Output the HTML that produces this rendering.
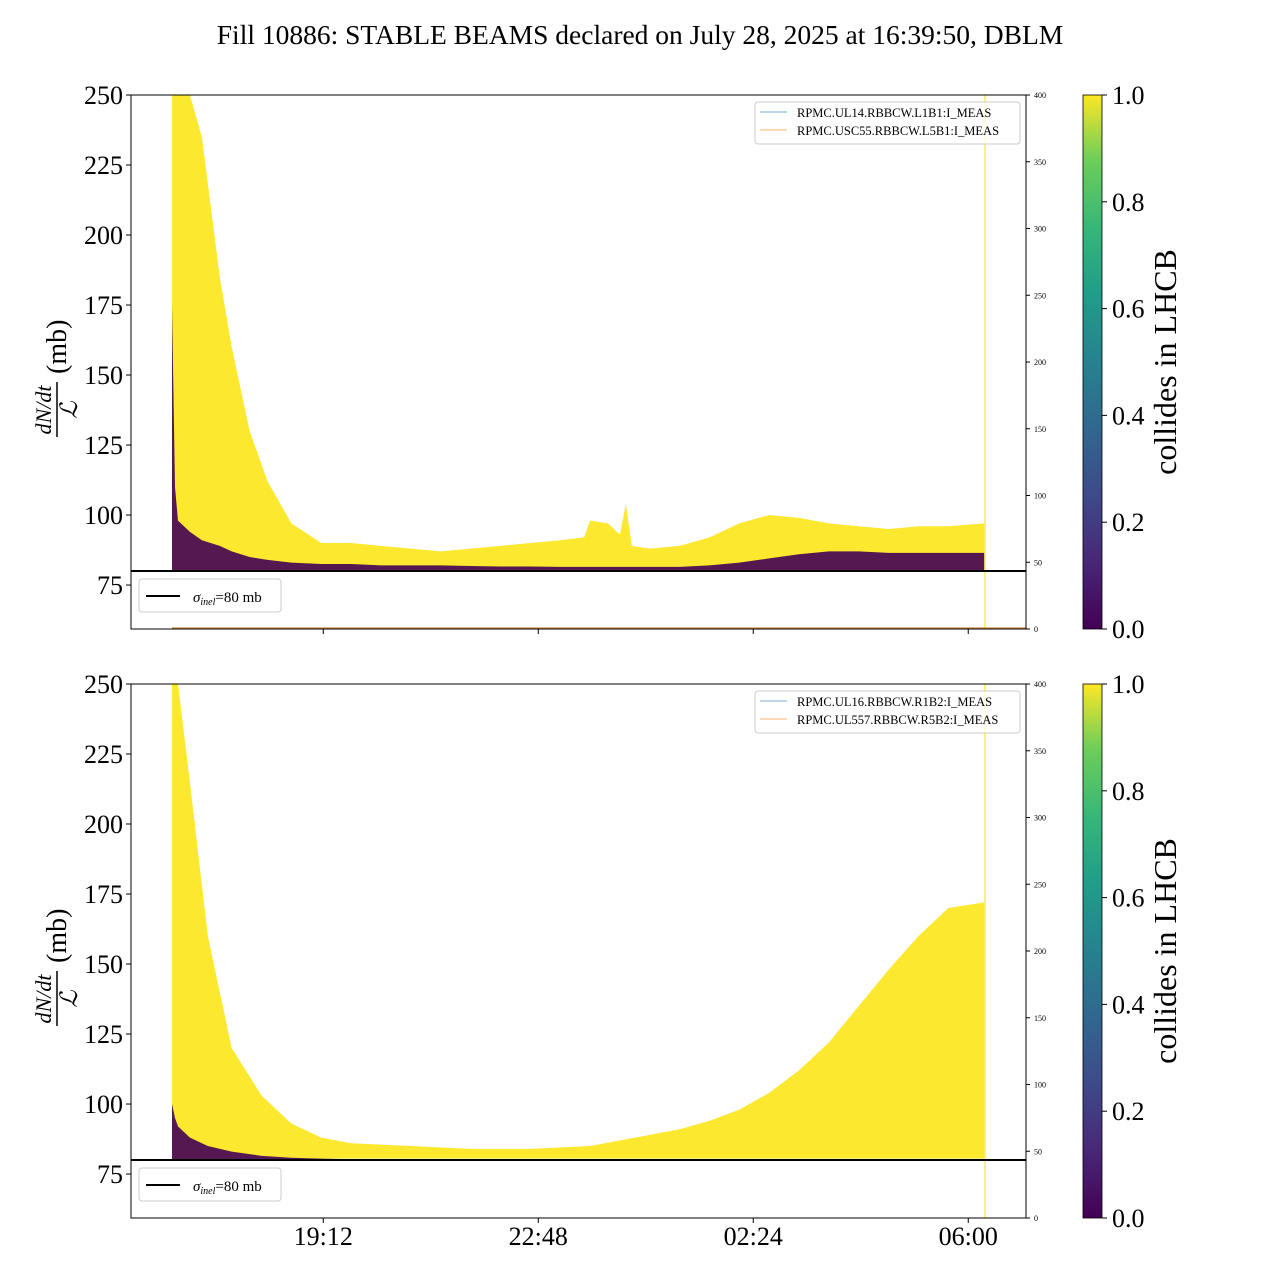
<!DOCTYPE html>
<html><head><meta charset="utf-8"><style>
html,body{margin:0;padding:0;background:#fff;}
svg text{font-family:"Liberation Serif",serif;}
</style></head><body>
<svg id="chart" width="1280" height="1280" viewBox="0 0 1280 1280" xmlns="http://www.w3.org/2000/svg">
<defs>
<linearGradient id="vir" x1="0" y1="1" x2="0" y2="0">
<stop offset="0" stop-color="#440154"/><stop offset="0.13" stop-color="#482878"/><stop offset="0.25" stop-color="#3e4a89"/><stop offset="0.38" stop-color="#31688e"/><stop offset="0.5" stop-color="#26828e"/><stop offset="0.63" stop-color="#1f9e89"/><stop offset="0.75" stop-color="#35b779"/><stop offset="0.88" stop-color="#6ece58"/><stop offset="1" stop-color="#fde725"/>
</linearGradient>
</defs>
<text x="640" y="44" text-anchor="middle" font-size="27.5">Fill 10886: STABLE BEAMS declared on July 28, 2025 at 16:39:50, DBLM</text>
<g id="panels"></g>
</svg>
<script>
// hours since 16:40
const timesTop = [0,0.05,0.1,0.3,0.5,0.8,1.0,1.3,1.6,2.0,2.5,3.0,3.5,4.0,4.5,5.0,5.5,6.0,6.5,6.9,7.0,7.3,7.5,7.6,7.7,8.0,8.5,9.0,9.5,10.0,10.5,11.0,11.5,12.0,12.5,13.0,13.6];
const yellowTop = [250,250,250,250,235,185,160,130,112,97,90,90,89,88,87,88,89,90,91,92,98,97,93,104,89,88,89,92,97,100,99,97,96,95,96,96,97];
const purpleTop = [175,110,98,94,91,89,87,85,84,83,82.5,82.5,82,82,82,81.8,81.6,81.6,81.5,81.5,81.5,81.5,81.5,81.5,81.5,81.5,81.5,82,83,84.5,86,87,87,86.5,86.5,86.5,86.5];
const timesBot = [0,0.05,0.1,0.3,0.6,1.0,1.5,2.0,2.5,3.0,4.0,5.0,6.0,7.0,7.5,8.0,8.5,9.0,9.5,10.0,10.5,11.0,11.5,12.0,12.5,13.0,13.6];
const yellowBot = [250,250,250,215,160,120,103,93,88,86,85,84,84,85,87,89,91,94,98,104,112,122,135,148,160,170,172];
const purpleBot = [100,95,92,88,85,83,81.5,80.8,80.5,80.3,80.2,80.2,80.2,80.2,80.2,80.2,80.2,80.2,80.2,80.2,80.2,80.2,80.2,80.2,80.2,80.2,80.2];
const yTicks = [75,100,125,150,175,200,225,250];
const rTicks = [0,50,100,150,200,250,300,350,400];
const xTickHours = [2.533,6.133,9.733,13.333];
const xTickLabels = ["19:12","22:48","02:24","06:00"];
const cbTicks = [0.0,0.2,0.4,0.6,0.8,1.0];
const legendTop = ["RPMC.UL14.RBBCW.L1B1:I_MEAS","RPMC.USC55.RBBCW.L5B1:I_MEAS"];
const legendBot = ["RPMC.UL16.RBBCW.R1B2:I_MEAS","RPMC.UL557.RBBCW.R5B2:I_MEAS"];

const NS="http://www.w3.org/2000/svg";
const X0=131,X1=1026,YMIN=59.3,YMAX=250;
function xs(h){return 172+h*59.72;}
function mk(tag,attrs,parent){const e=document.createElementNS(NS,tag);for(const k in attrs)e.setAttribute(k,attrs[k]);parent.appendChild(e);return e;}
const root=document.getElementById('panels');

function panel(top,times,yel,pur,leg,showX,name){
  const bot=top+534;
  const ys=v=>bot-(v-YMIN)/(YMAX-YMIN)*(bot-top);
  const g=mk('g',{},root);
  
  
  const clip='clip'+top;
  const cp=mk('clipPath',{id:clip},g);mk('rect',{x:X0,y:top,width:X1-X0,height:bot-top},cp);
  const pg=mk('g',{'clip-path':'url(#'+clip+')'},g);
  let d='M'+xs(times[0])+','+ys(80.5);
  times.forEach((t,i)=>{d+=' L'+xs(t)+','+ys(yel[i]);});
  d+=' L'+xs(times[times.length-1])+','+ys(80.5)+'Z';
  const ya=mk('path',{d:d,fill:'#fde725','fill-opacity':0.95},pg);
  
  
  let d2='M'+xs(times[0])+','+ys(80);
  times.forEach((t,i)=>{d2+=' L'+xs(t)+','+ys(pur[i]);});
  d2+=' L'+xs(times[times.length-1])+','+ys(80)+'Z';
  const pa=mk('path',{d:d2,fill:'#440154','fill-opacity':0.9},pg);
  
  
  const vl=mk('line',{x1:985,x2:985,y1:top,y2:bot,stroke:'#fde725','stroke-width':1.2},g);
  
  
  if(top<300){const ol=mk('line',{x1:172,x2:1026,y1:bot-1,y2:bot-1,stroke:'#d08a40','stroke-width':1.2},g);
    
    }
  const sl=mk('line',{x1:X0,x2:X1,y1:ys(80),y2:ys(80),stroke:'#000','stroke-width':2},g);
  
  
  const fr=mk('rect',{x:X0,y:top,width:X1-X0,height:bot-top,fill:'none',stroke:'#000','stroke-width':1},g);
  
  
  yTicks.forEach(v=>{const y=ys(v);mk('line',{x1:X0-5,x2:X0,y1:y,y2:y,stroke:'#000'},g);
    const t=mk('text',{x:X0-8,y:y+9,'text-anchor':'end','font-size':26},g);t.textContent=v;
    
    });
  rTicks.forEach(v=>{const y=bot-v/400*(bot-top);mk('line',{x1:X1,x2:X1+4,y1:y,y2:y,stroke:'#000'},g);
    const t=mk('text',{x:X1+8,y:y+3,'font-size':8},g);t.textContent=v;
    
    });
  xTickHours.forEach((h,i)=>{const x=xs(h);mk('line',{x1:x,x2:x,y1:bot,y2:bot+5,stroke:'#000'},g);
    if(showX){const t=mk('text',{x:x,y:bot+27,'text-anchor':'middle','font-size':26},g);t.textContent=xTickLabels[i];
      
      }});
  const yl=mk('g',{transform:'translate(57,'+(top+267)+') rotate(-90)'},g);
  
  
  const a=mk('text',{x:-48,y:-6,'text-anchor':'middle','font-size':22,'font-style':'italic'},yl);a.textContent='dN/dt';
  mk('line',{x1:-75,x2:-20,y1:0,y2:0,stroke:'#000','stroke-width':1.5},yl);
  const b=mk('text',{x:-48,y:20,'text-anchor':'middle','font-size':24,'font-style':'italic'},yl);b.textContent='ℒ';
  const c=mk('text',{x:-12,y:9,'font-size':28},yl);c.textContent='(mb)';
  const lg=mk('g',{},g);
  
  
  mk('rect',{x:139,y:bot-50,width:142,height:33,rx:3,fill:'#fff',stroke:'#ccc'},lg);
  mk('line',{x1:146,x2:180,y1:bot-33,y2:bot-33,stroke:'#000','stroke-width':2},lg);
  const st=mk('text',{x:193,y:bot-27,'font-size':15},lg);
  st.innerHTML='<tspan font-style="italic">σ</tspan><tspan font-style="italic" font-size="10" dy="3">inel</tspan><tspan dy="-3">=80 mb</tspan>';
  const sg=mk('g',{},g);
  
  
  mk('rect',{x:755,y:top+7,width:265,height:42,rx:3,fill:'#fff','fill-opacity':0.8,stroke:'#ccc'},sg);
  const cols=['#1f77b4','#ff7f0e'];
  leg.forEach((s,i)=>{const y=top+17+i*18;mk('line',{x1:760,x2:787,y1:y,y2:y,stroke:cols[i],'stroke-width':1,'stroke-opacity':0.6},sg);
    const t=mk('text',{x:797,y:y+5,'font-size':12.5},sg);t.textContent=s;
    
    });
  const cb=mk('g',{},g);
  
  
  mk('rect',{x:1083,y:top,width:19,height:bot-top,fill:'url(#vir)',stroke:'#000','stroke-width':0.8},cb);
  cbTicks.forEach(v=>{const y=bot-v*(bot-top);mk('line',{x1:1102,x2:1107,y1:y,y2:y,stroke:'#000'},cb);
    const t=mk('text',{x:1112,y:y+9,'font-size':26},cb);t.textContent=v.toFixed(1);
    
    });
  const ct=mk('text',{x:0,y:0,'font-size':32,'text-anchor':'middle',transform:'translate(1176,'+(top+267)+') rotate(-90)'},cb);
  ct.textContent='collides in LHCB';
  
  
}
panel(95,timesTop,yellowTop,purpleTop,legendTop,false,'top-panel');
panel(684,timesBot,yellowBot,purpleBot,legendBot,true,'bottom-panel');
</script>
</body></html>
